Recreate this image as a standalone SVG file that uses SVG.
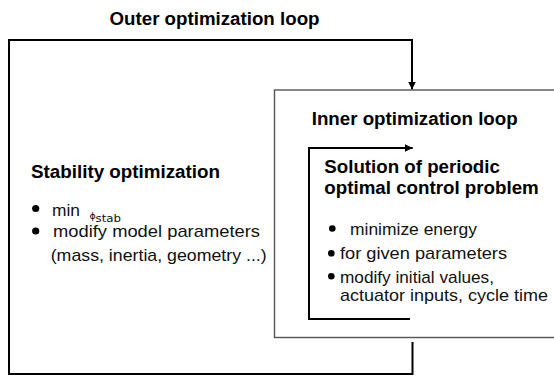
<svg xmlns="http://www.w3.org/2000/svg" width="554" height="376" viewBox="0 0 554 376">
  <style>
    .h { font-family: "Liberation Sans", Arial, sans-serif; font-weight: bold; font-size: 17.5px; fill: #000; }
    .t { font-family: "Liberation Sans", Arial, sans-serif; font-size: 17px; fill: #111; }
    .sub { font-family: "DejaVu Sans", "Liberation Sans", sans-serif; fill: #111; }
    .loop { fill: none; stroke: #000; stroke-width: 2; }
    .box { fill: #fff; stroke: #555; stroke-width: 1.4; }
    .dot { fill: #000; }
  </style>
  <defs>
    <marker id="arr" viewBox="0 0 10 10" refX="10" refY="5" markerWidth="8" markerHeight="8" markerUnits="userSpaceOnUse" orient="auto">
      <path d="M0,0 L10,5 L0,10 z" fill="#000"/>
    </marker>
  </defs>

  <rect width="554" height="376" fill="#fff"/>

  <g id="connectors">
    <!-- outer optimization loop: returns from the inner box and re-enters it from the top -->
    <path class="loop" d="M412.5,342 V374 H9 V40 H412 V89.5" marker-end="url(#arr)"/>
  </g>

  <g id="outer-label">
    <text class="h" x="109.5" y="25" textLength="210" lengthAdjust="spacingAndGlyphs">Outer optimization loop</text>
  </g>

  <g id="stability">
    <text class="h" x="31" y="178" textLength="189" lengthAdjust="spacingAndGlyphs">Stability optimization</text>
    <circle class="dot" cx="35.7" cy="208.5" r="3.6"/>
    <text class="t" x="52" y="216" textLength="28" lengthAdjust="spacingAndGlyphs">min</text>
    <text class="sub" x="89.5" y="219" font-size="9.5">ϕ</text>
    <text class="sub" x="95.5" y="221.5" font-size="10.5" textLength="25.5" lengthAdjust="spacingAndGlyphs">stab</text>
    <circle class="dot" cx="35.7" cy="231" r="3.6"/>
    <text class="t" x="53" y="237" textLength="207" lengthAdjust="spacingAndGlyphs">modify model parameters</text>
    <text class="t" x="50.7" y="261" textLength="216" lengthAdjust="spacingAndGlyphs">(mass, inertia, geometry ...)</text>
  </g>

  <g id="inner">
    <rect class="box" x="274.5" y="90" width="290" height="247.5"/>
    <text class="h" x="311.7" y="125" textLength="206" lengthAdjust="spacingAndGlyphs">Inner optimization loop</text>
    <!-- inner loop bracket -->
    <path class="loop" d="M410,319 H309 V148 H412.7" marker-end="url(#arr)"/>
  </g>

  <g id="periodic">
    <text class="h" x="324.3" y="172.5" textLength="175.6" lengthAdjust="spacingAndGlyphs">Solution of periodic</text>
    <text class="h" x="324.3" y="194" textLength="214.5" lengthAdjust="spacingAndGlyphs">optimal control problem</text>
    <circle class="dot" cx="332.3" cy="228.5" r="3.3"/>
    <text class="t" x="350" y="235" textLength="127" lengthAdjust="spacingAndGlyphs">minimize energy</text>
    <circle class="dot" cx="331.3" cy="253.3" r="3.3"/>
    <text class="t" x="340" y="259" textLength="167" lengthAdjust="spacingAndGlyphs">for given parameters</text>
    <circle class="dot" cx="331.3" cy="276.3" r="3.3"/>
    <text class="t" x="340" y="283" textLength="154" lengthAdjust="spacingAndGlyphs">modify initial values,</text>
    <text class="t" x="340" y="301" textLength="208" lengthAdjust="spacingAndGlyphs">actuator inputs, cycle time</text>
  </g>
</svg>
